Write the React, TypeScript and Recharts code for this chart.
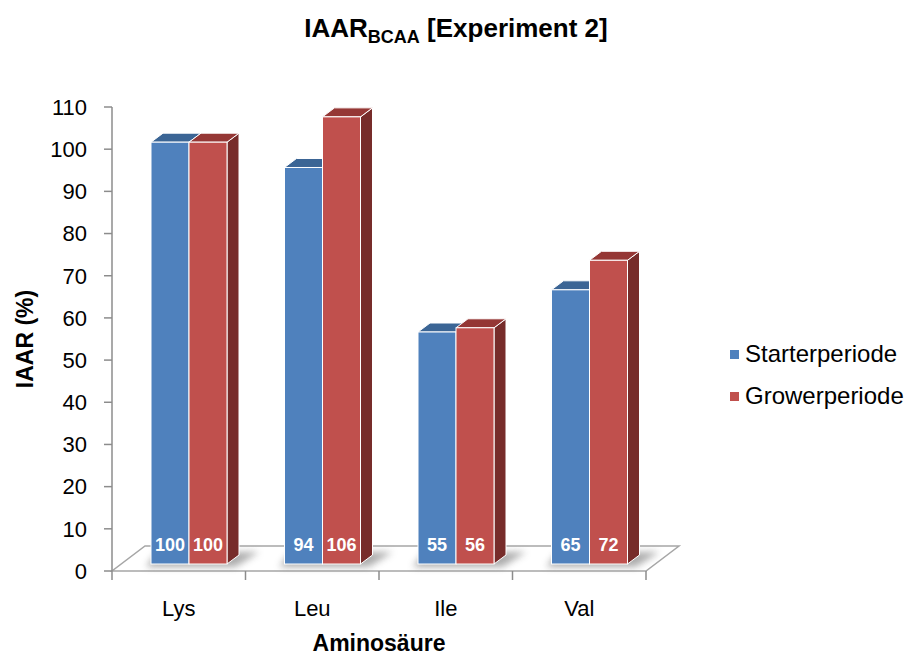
import React from "react";
import { BarChart, Bar, XAxis, YAxis, LabelList, ReferenceArea, Label } from "recharts";

const categories = ["Lys", "Leu", "Ile", "Val"];
const starter = [100, 94, 55, 65];
const grower = [100, 106, 56, 72];
const yTicks = [0, 10, 20, 30, 40, 50, 60, 70, 80, 90, 100, 110];

const series = [
  { key: "starter", name: "Starterperiode", front: "#4F81BD", top: "#3B6595", side: "#2F5077" },
  { key: "grower", name: "Growerperiode", front: "#C0504D", top: "#953735", side: "#772C2A" },
];

const data = categories.map((name, i) => ({ name, starter: starter[i], grower: grower[i] }));

const FONT = '"Liberation Sans", Arial, sans-serif';
const AXIS_GRAY = "#8C8C8C";
// bars stand a little behind the front edge of the floor
const DX = 10;
const DY = -7;
// depth of a bar and of the floor
const BAR_DX = 12;
const BAR_DY = 9;
const FLOOR_DX = 33;
const FLOOR_DY = 25;

function bar3d(front: string, top: string, side: string, shadow: boolean) {
  return (props: any) => {
    const { x, y, width, height } = props;
    if (width == null || height == null) return null;
    const l = x + DX;
    const r = l + width;
    const t = y + DY;
    const b = y + height + DY;
    return (
      <g>
        {shadow && (
          <polygon
            points={`${l - 5},${b + 3} ${r + width + 8},${b + 3} ${r + width + BAR_DX + 20},${b - BAR_DY - 3} ${l + BAR_DX - 6},${b - BAR_DY - 3}`}
            fill="#8A8A8A"
            opacity={0.7}
            filter="url(#floorShadow)"
          />
        )}
        <polygon
          points={`${r},${t} ${r + BAR_DX},${t - BAR_DY} ${r + BAR_DX},${b - BAR_DY} ${r},${b}`}
          fill={side}
          stroke="#fff"
          strokeWidth={1}
        />
        <polygon
          points={`${l},${t} ${l + BAR_DX},${t - BAR_DY} ${r + BAR_DX},${t - BAR_DY} ${r},${t}`}
          fill={top}
          stroke="#fff"
          strokeWidth={1}
        />
        <rect x={l} y={t} width={width} height={height} fill={front} stroke="#fff" strokeWidth={1} />
      </g>
    );
  };
}

const valueLabel = (props: any) => {
  const vb = props.viewBox && props.viewBox.width != null ? props.viewBox : props;
  const { x, y, width, height } = vb;
  return (
    <text
      x={x + width / 2 + DX}
      y={y + height + DY - 13}
      textAnchor="middle"
      fill="#fff"
      fontWeight="bold"
      fontSize={18}
      fontFamily={FONT}
    >
      {props.value}
    </text>
  );
};

const Floor = (props: any) => {
  const { x, y, width, height } = props;
  const b = y + height;
  return (
    <g>
      <defs>
        <filter id="floorShadow" x="-20%" y="-50%" width="140%" height="200%">
          <feGaussianBlur stdDeviation="3.5" />
        </filter>
      </defs>
      <polygon
        points={`${x},${b} ${x + width},${b} ${x + width + FLOOR_DX},${b - FLOOR_DY} ${x + FLOOR_DX},${b - FLOOR_DY}`}
        fill="#fff"
        stroke="#A6A6A6"
        strokeWidth={1.5}
      />
    </g>
  );
};

function CategoryTick(props: any) {
  const { x, y, payload } = props;
  const half = payload && payload.offset ? payload.offset : 66.75;
  const isLast = payload.value === categories[categories.length - 1];
  return (
    <g>
      <line x1={x - half} x2={x - half} y1={y} y2={y + 9} stroke={AXIS_GRAY} strokeWidth={1.5} />
      {isLast && <line x1={x + half} x2={x + half} y1={y} y2={y + 9} stroke={AXIS_GRAY} strokeWidth={1.5} />}
      <text x={x} y={y + 45} textAnchor="middle" fontSize={22} fill="#000" fontFamily={FONT}>
        {payload.value}
      </text>
    </g>
  );
}

export default function App() {
  return (
    <div style={{ position: "absolute", left: 0, top: 0, width: 910, height: 655, fontFamily: FONT, background: "#fff" }}>
      <div
        style={{
          position: "absolute",
          left: 0,
          top: 13,
          width: 912,
          textAlign: "center",
          fontSize: 26,
          fontWeight: "bold",
          color: "#000",
        }}
      >
        IAAR<sub style={{ fontSize: 18 }}>BCAA</sub> [Experiment 2]
      </div>

      <BarChart
        width={910}
        height={655}
        data={data}
        margin={{ top: 107, right: 264, bottom: 0, left: 0 }}
        barSize={38}
        barGap={0}
        style={{ fontFamily: FONT }}
      >
        <ReferenceArea y1={0} y2={1} shape={Floor} isFront={false} />
        <XAxis
          dataKey="name"
          height={84}
          axisLine={false}
          tickLine={false}
          tickSize={0}
          tickMargin={0}
          interval={0}
          tick={<CategoryTick />}
        >
          <Label
            content={(p: any) => {
              const vb = p.viewBox;
              return (
                <text x={vb.x + vb.width / 2} y={vb.y + 80} textAnchor="middle" fontSize={23} fontWeight="bold" fill="#000" fontFamily={FONT}>
                  Aminosäure
                </text>
              );
            }}
          />
        </XAxis>
        <YAxis
          width={112}
          domain={[0, 110]}
          ticks={yTicks}
          interval={0}
          axisLine={{ stroke: AXIS_GRAY, strokeWidth: 1.5 }}
          tickLine={{ stroke: AXIS_GRAY, strokeWidth: 1.5 }}
          tickSize={8}
          tickMargin={17}
          tick={{ fontSize: 22, fill: "#000", fontFamily: FONT }}
        >
          <Label
            content={(p: any) => {
              const vb = p.viewBox;
              const cx = vb.x + 25;
              const cy = vb.y + vb.height / 2;
              return (
                <text
                  x={cx}
                  y={cy}
                  transform={`rotate(-90 ${cx} ${cy})`}
                  textAnchor="middle"
                  dominantBaseline="central"
                  fontSize={23}
                  fontWeight="bold"
                  fill="#000"
                  fontFamily={FONT}
                >
                  IAAR (%)
                </text>
              );
            }}
          />
        </YAxis>
        {series.map((s, i) => (
          <Bar
            key={s.key}
            dataKey={s.key}
            name={s.name}
            fill={s.front}
            isAnimationActive={false}
            shape={bar3d(s.front, s.top, s.side, i === 0)}
          >
            <LabelList dataKey={s.key} content={valueLabel} />
          </Bar>
        ))}
      </BarChart>

      <div style={{ position: "absolute", left: 730, top: 333, fontSize: 24, color: "#000" }}>
        {series.map((s) => (
          <div key={s.key} style={{ display: "flex", alignItems: "center", height: 42 }}>
            <span style={{ width: 9, height: 9, background: s.front, marginRight: 6, display: "inline-block" }} />
            <span>{s.name}</span>
          </div>
        ))}
      </div>
    </div>
  );
}
